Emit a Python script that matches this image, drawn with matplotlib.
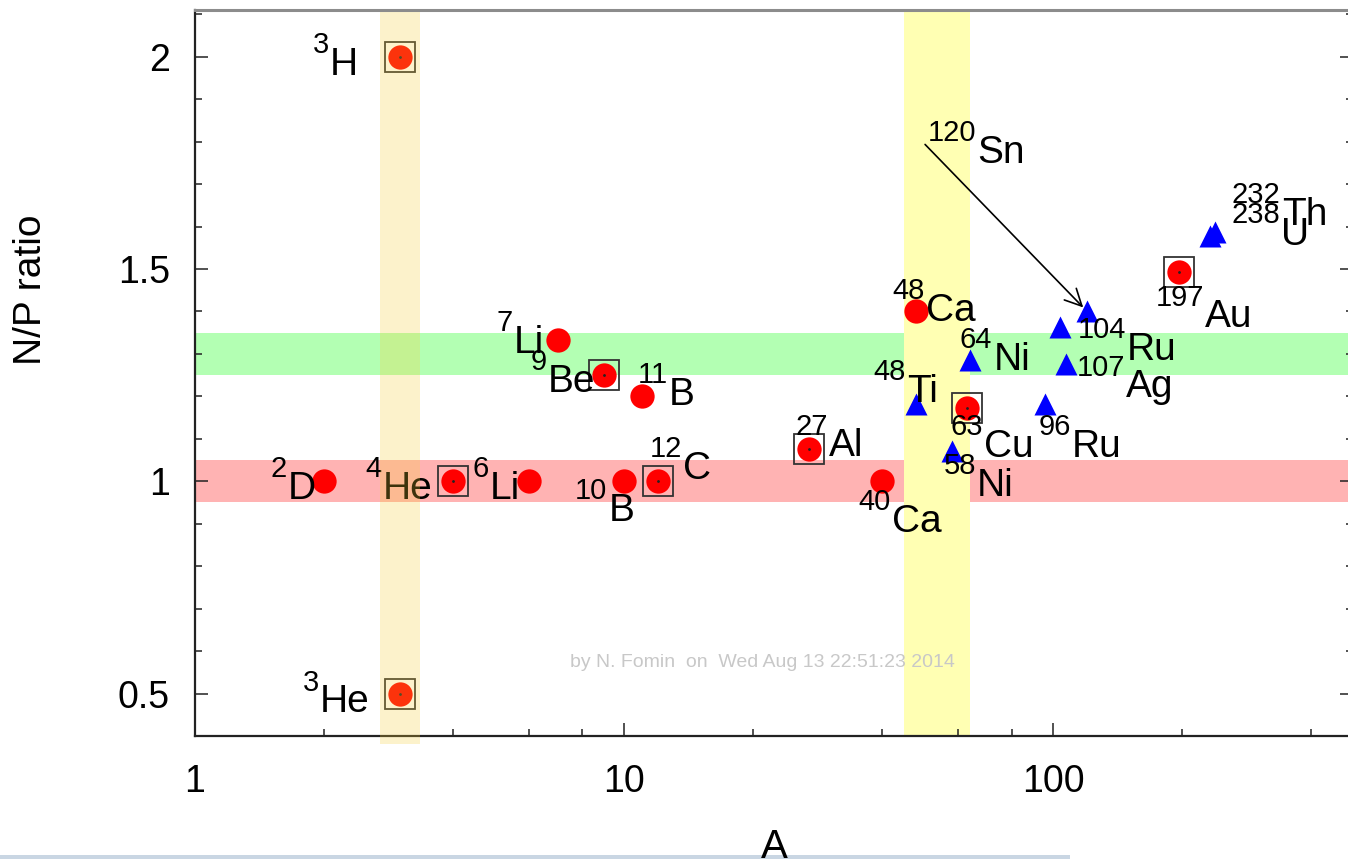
import matplotlib
matplotlib.use("Agg")
import matplotlib.pyplot as plt
from matplotlib.patches import Rectangle
from matplotlib.ticker import FixedLocator, MultipleLocator, NullFormatter, FuncFormatter

plt.rcParams['font.family'] = ['Liberation Sans', 'DejaVu Sans']

# ---------------- data ----------------
circ_mass = [3, 3, 2, 4, 6, 7, 9, 11, 10, 12, 27, 40, 48, 63, 197]
circ_sym = ['H', 'He', 'D', 'He', 'Li', 'Li', 'Be', 'B', 'B', 'C', 'Al', 'Ca', 'Ca', 'Cu', 'Au']
circ_ratio = [2.0, 0.5, 1.0, 1.0, 1.0, 1.333, 1.25, 1.2, 1.0, 1.0, 1.077, 1.0, 1.4, 1.172, 1.494]
circ_boxed = [True, True, False, True, False, False, True, False, False, True, True, False, False, True, True]

tri_mass = [48, 58, 64, 96, 104, 107, 120, 232, 238]
tri_sym = ['Ti', 'Ni', 'Ni', 'Ru', 'Ru', 'Ag', 'Sn', 'Th', 'U']
tri_ratio = [1.182, 1.071, 1.286, 1.182, 1.364, 1.277, 1.4, 1.578, 1.587]

green_band = (1.25, 1.35)
red_band = (0.95, 1.05)
beige_band = (2.7, 3.35)
yellow_band = (45, 64)

x_major = [1, 10, 100]
x_minor = [2, 4, 6, 8, 20, 40, 60, 80, 200, 400]
y_major = [0.5, 1.0, 1.5, 2.0]
y_labels = ['0.5', '1', '1.5', '2']

watermark = 'by N. Fomin  on  Wed Aug 13 22:51:23 2014'

# label offsets (pixels: left edge dx, element baseline dy downward) -- styling only
circ_off = [(-87, 18), (-97, 19), (-54, 18), (-88, 18), (-56, 18), (-61, 13), (-74, 17),
            (-4, 9), (-49, 40), (-8, -2), (-14, 8), (-24, 51), (-24, 10), (-17, 49), (-24, 56)]
tri_off = [(-43, -2), (-8, 45), (-10, 10), (-7, 53), (17, 33), (11, 34), (-159, -148), (22, -11), (17, 13)]
arrow_start = (-162, -167)  # for Sn arrow, pixels

PT = 72.0 / 100.0
SUP_FS, EL_FS = 21, 28
SUP_RISE = 22      # px between superscript baseline and element baseline
SUP_DESC = 6.2     # px descent of superscript text box
SUP_GAP = 1        # px

fig = plt.figure(figsize=(13.48, 8.59), dpi=100)
W, H = 1348.0, 859.0
ax = fig.add_axes([195 / W, (H - 736) / H, (1353 - 195) / W, (736 - 10) / H])
ax.set_xscale('log')
ax.set_xlim(1, 500)
ax.set_ylim(0.4, 2.11)

# bands
ax.axhspan(*green_band, color='#b3ffb3', lw=0, zorder=1)
ax.axhspan(*red_band, color='#ffb3b3', lw=0, zorder=1)
ax.axvspan(*yellow_band, color='#ffffb3', lw=0, zorder=1.5)
ax.add_patch(Rectangle((beige_band[0], 0.381), beige_band[1] - beige_band[0], 2.105 - 0.381,
                       transform=ax.transData, facecolor=(247/255, 207/255, 51/255), alpha=0.25,
                       lw=0, clip_on=False, zorder=10))

# markers
ax.plot(circ_mass, circ_ratio, 'o', color='#ff0000', ms=17.5, mec='none', zorder=5, clip_on=False)
bm = [m for m, b in zip(circ_mass, circ_boxed) if b]
br = [r for r, b in zip(circ_ratio, circ_boxed) if b]
ax.plot(bm, br, 's', mfc='none', mec='#333333', mew=1.3, ms=21.5, zorder=6)
ax.plot(bm, br, '.', color='#222222', ms=2, zorder=6)
ax.plot(tri_mass, tri_ratio, '^', color='#0000ff', ms=16, mec='none', zorder=5)


def iso_label(m, s, r, dx, dy):
    sup = ax.annotate(str(m), xy=(m, r), xytext=(dx * PT, -(dy - SUP_RISE) * PT),
                      textcoords='offset points', ha='left', va='baseline',
                      fontsize=SUP_FS, zorder=7)
    ax.annotate(s, xy=(1, 0), xycoords=sup,
                xytext=(SUP_GAP * PT, -(SUP_RISE - SUP_DESC) * PT), textcoords='offset points',
                ha='left', va='baseline', fontsize=EL_FS, zorder=7)


for m, s, r, (dx, dy) in zip(circ_mass, circ_sym, circ_ratio, circ_off):
    iso_label(m, s, r, dx, dy)
for m, s, r, (dx, dy) in zip(tri_mass, tri_sym, tri_ratio, tri_off):
    iso_label(m, s, r, dx, dy)

# arrow to 120Sn
i_sn = tri_sym.index('Sn')
ax.annotate('', xy=(tri_mass[i_sn], tri_ratio[i_sn]),
            xytext=(arrow_start[0] * PT, -arrow_start[1] * PT), textcoords='offset points',
            arrowprops=dict(arrowstyle='->,head_length=0.6,head_width=0.3', color='black',
                            lw=1.2, shrinkA=0, shrinkB=4, mutation_scale=20), zorder=8)

# ticks
ax.xaxis.set_major_locator(FixedLocator(x_major))
ax.xaxis.set_minor_locator(FixedLocator(x_minor))
ax.xaxis.set_major_formatter(FuncFormatter(lambda v, p: '%g' % v))
ax.xaxis.set_minor_formatter(NullFormatter())
ax.set_yticks(y_major)
ax.set_yticklabels(y_labels)
ax.yaxis.set_minor_locator(MultipleLocator(0.1))

ax.tick_params(which='both', direction='in', top=False, right=True, color='#222222', width=1.1)
ax.tick_params(which='major', length=9.5)
ax.tick_params(which='minor', length=5)
ax.tick_params(axis='x', which='major', labelsize=27, pad=20)
ax.tick_params(axis='y', which='major', labelsize=27, pad=18)

for sp in ['left', 'bottom']:
    ax.spines[sp].set_color('#222222')
    ax.spines[sp].set_linewidth(1.6)
ax.spines['top'].set_color('#8c8c8c')
ax.spines['top'].set_linewidth(2.2)
ax.spines['top'].set_zorder(12)

# axis titles
fig.text(774 / W, (H - 858) / H, 'A', ha='center', va='baseline', fontsize=29)
fig.text(31 / W, (H - 290) / H, 'N/P ratio', ha='center', va='center', rotation=90, fontsize=28)

# watermark
fig.text(570 / W, (H - 667) / H, watermark, ha='left', va='baseline', fontsize=14,
         color='#c8c8c8', zorder=1.2)

# bottom window strip
fig.patches.append(Rectangle((0, 0), 1070 / W, 4 / H, transform=fig.transFigure,
                             facecolor='#c9d6e3', lw=0, figure=fig))

fig.savefig('out.png', dpi=100)
